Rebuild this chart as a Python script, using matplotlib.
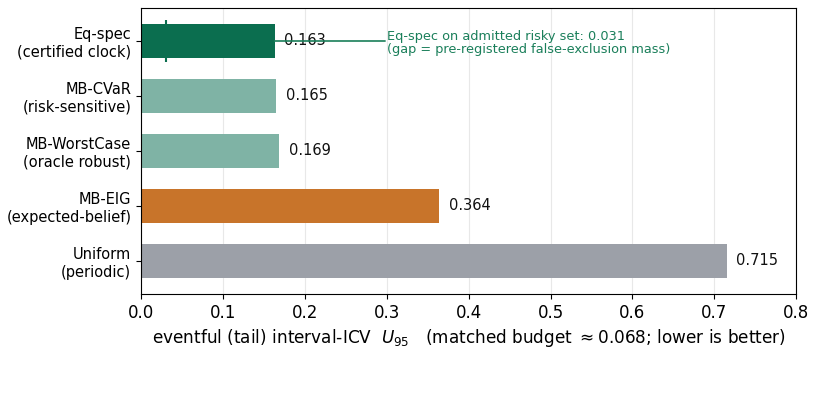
import matplotlib
matplotlib.use("Agg")
import matplotlib.pyplot as plt

labels = ["Eq-spec\n(certified clock)", "MB-CVaR\n(risk-sensitive)", "MB-WorstCase\n(oracle robust)",
          "MB-EIG\n(expected-belief)", "Uniform\n(periodic)"]
values = [0.163, 0.165, 0.169, 0.364, 0.715]
colors = ["#0b6e4f", "#7fb3a5", "#7fb3a5", "#c8742a", "#9ca0a8"]
admitted_value = 0.031
xticks = [0.0, 0.1, 0.2, 0.3, 0.4, 0.5, 0.6, 0.7, 0.8]

fig = plt.figure(figsize=(8.15, 3.96), dpi=100)
ax = fig.add_axes([0.173, 0.2576, 0.804, 0.7222])
ypos = list(range(len(values)))
ax.barh(ypos, values, height=0.62, color=colors, zorder=2)
for y, v in zip(ypos, values):
    ax.text(v + 0.012, y, f"{v:.3f}", va="center", ha="left", fontsize=10.5, color="#111111", zorder=4)

ax.plot([admitted_value], [0], marker="|", markersize=30, markeredgewidth=1.5, color="#0b6e4f", zorder=1)
ax.annotate("", xy=(values[0], 0), xytext=(0.298, 0),
            arrowprops=dict(arrowstyle="-", color="#1a7f5a", lw=1.2, shrinkA=0, shrinkB=0), zorder=5)
ax.text(0.30, 0.04, "Eq-spec on admitted risky set: 0.031\n(gap = pre-registered false-exclusion mass)",
        fontsize=9.3, color="#1a7f5a", va="center", ha="left", linespacing=0.95)

ax.set_yticks(ypos)
ax.set_yticklabels(labels, fontsize=10.5)
ax.set_ylim(4.6, -0.6)
ax.set_xlim(0, 0.8)
ax.set_xticks(xticks)
ax.set_xticklabels([f"{t:.1f}" for t in xticks], fontsize=12)
ax.grid(axis="x", color="#e8e8e8", lw=0.8, zorder=0)
ax.set_axisbelow(True)
ax.set_xlabel(r"eventful (tail) interval-ICV  $U_{95}$   (matched budget $\approx 0.068$; lower is better)", fontsize=12.2)

fig.savefig("out.png", dpi=100)
